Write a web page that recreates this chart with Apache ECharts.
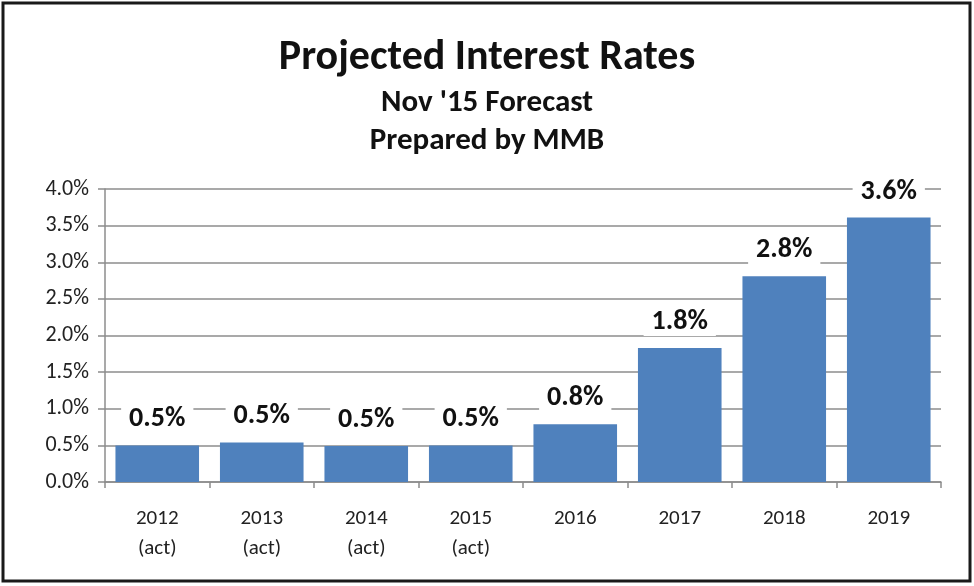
<!DOCTYPE html>
<html>
<head>
<meta charset="utf-8">
<script src="https://cdn.jsdelivr.net/npm/echarts@6/dist/echarts.min.js"></script>
<style>
  html, body { margin: 0; padding: 0; background: #fff; }
  #main { width: 974px; height: 586px; }
</style>
</head>
<body>
<div id="main"></div>
<script>
var years = ['2012\n(act)', '2013\n(act)', '2014\n(act)', '2015\n(act)', '2016', '2017', '2018', '2019'];
var rates = [0.50, 0.54, 0.49, 0.50, 0.79, 1.83, 2.81, 3.61];

var font = 'Carlito, "Liberation Sans Narrow", "DejaVu Sans Condensed", sans-serif';

var chart = echarts.init(document.getElementById('main'));

chart.setOption({
    backgroundColor: '#fff',
    animation: false,
    textStyle: { fontFamily: font },
    title: [{
        text: 'Projected Interest Rates',
        left: 'center',
        top: 32,
        textStyle: { fontSize: 42, fontWeight: 'bold', color: '#111', fontFamily: font }
    }, {
        text: "Nov '15 Forecast",
        left: 'center',
        top: 83,
        textStyle: { fontSize: 31, fontWeight: 'bold', color: '#111', fontFamily: font }
    }, {
        text: 'Prepared by MMB',
        left: 'center',
        top: 121,
        textStyle: { fontSize: 31, fontWeight: 'bold', color: '#111', fontFamily: font }
    }],
    graphic: [{
        type: 'rect',
        shape: { x: 3, y: 3, width: 967, height: 578 },
        style: { fill: null, stroke: '#1a1a1a', lineWidth: 3 },
        silent: true
    }],
    grid: { left: 105, right: 33, top: 189, bottom: 104, containLabel: false },
    xAxis: {
        type: 'category',
        data: years,
        axisLine: { lineStyle: { color: '#8c8c8c', width: 1.5 } },
        axisTick: { show: true, length: 6, lineStyle: { color: '#8c8c8c', width: 1.5 } },
        axisLabel: { fontSize: 21, color: '#222', margin: 22, lineHeight: 30, fontFamily: font }
    },
    yAxis: {
        type: 'value',
        min: 0,
        max: 4,
        interval: 0.5,
        axisLine: { show: true, lineStyle: { color: '#8c8c8c', width: 1.5 } },
        axisTick: { show: true, inside: false, length: 7, lineStyle: { color: '#8c8c8c', width: 1.5 } },
        axisLabel: {
            fontSize: 22, color: '#222', margin: 16, fontFamily: font,
            formatter: function (v) { return v.toFixed(1) + '%'; }
        },
        splitLine: { show: true, lineStyle: { color: '#8c8c8c', width: 1.5 } }
    },
    series: [{
        type: 'bar',
        data: rates,
        barCategoryGap: '20%',
        itemStyle: { color: '#4f81bd' },
        label: {
            show: true,
            position: 'top',
            distance: 12,
            fontSize: 28,
            fontWeight: 'bold',
            color: '#111',
            fontFamily: font,
            backgroundColor: '#fff',
            padding: [0, 8],
            formatter: function (p) { return p.value.toFixed(1) + '%'; }
        }
    }]
});
</script>
</body>
</html>
